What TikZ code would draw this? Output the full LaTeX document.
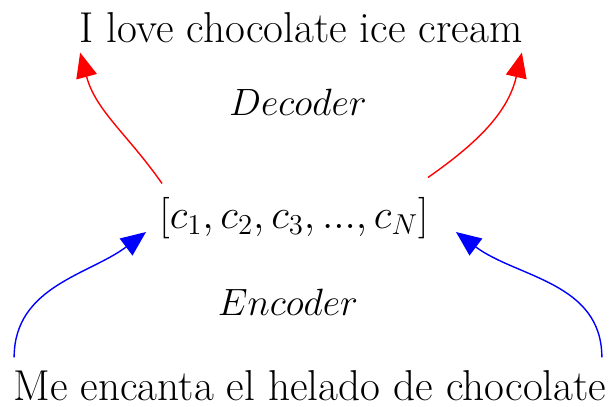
\documentclass[tikz,border=0pt]{standalone}
\usepackage{tikz}
\usetikzlibrary{arrows.meta,positioning}

\begin{document}
\begin{tikzpicture}[
        x=0.5pt, y=0.5pt,
        every node/.style={font=\fontsize{21.6}{26}\selectfont, inner sep=2pt},
        lbl/.style={font=\LARGE, scale=1.1},
        enc/.style={-{Triangle[length=12.5pt, width=10.5pt]}, line width=0.7pt, blue},
        dec/.style={-{Triangle[length=12.5pt, width=10.5pt]}, line width=0.7pt, red}
      ]
      \useasboundingbox (0,0) rectangle (611,407);
      \node (tgt) at (301,379) {I love chocolate ice cream};
      \node[lbl] (decl) at (298,305) {$Decoder$};
      \node[font=\huge] (vec) at (294,189) {$[c_1, c_2, c_3, ..., c_N]$};
      \node[lbl] (encl) at (288,105) {$Encoder$};
      \node (src) at (310,21) {Me encanta el helado de chocolate};

      \draw[enc] ([xshift=2.5pt, yshift=4.5pt]src.north west) to[out=90, in=217] ([xshift=-4.5pt, yshift=-7pt]vec.west);
      \draw[enc] ([xshift=-4.5pt, yshift=4.5pt]src.north east) to[out=90, in=323] ([xshift=11.5pt, yshift=-7pt]vec.east);
      \draw[dec] ([xshift=3.5pt, yshift=4.7pt]vec.north west) to[out=125, in=285] ([xshift=2.5pt, yshift=-2.5pt]tgt.south west);
      \draw[dec] ([xshift=-2.5pt, yshift=7.7pt]vec.north east) to[out=35, in=257] ([xshift=-2.5pt, yshift=-2.5pt]tgt.south east);
    \end{tikzpicture}
\end{document}
